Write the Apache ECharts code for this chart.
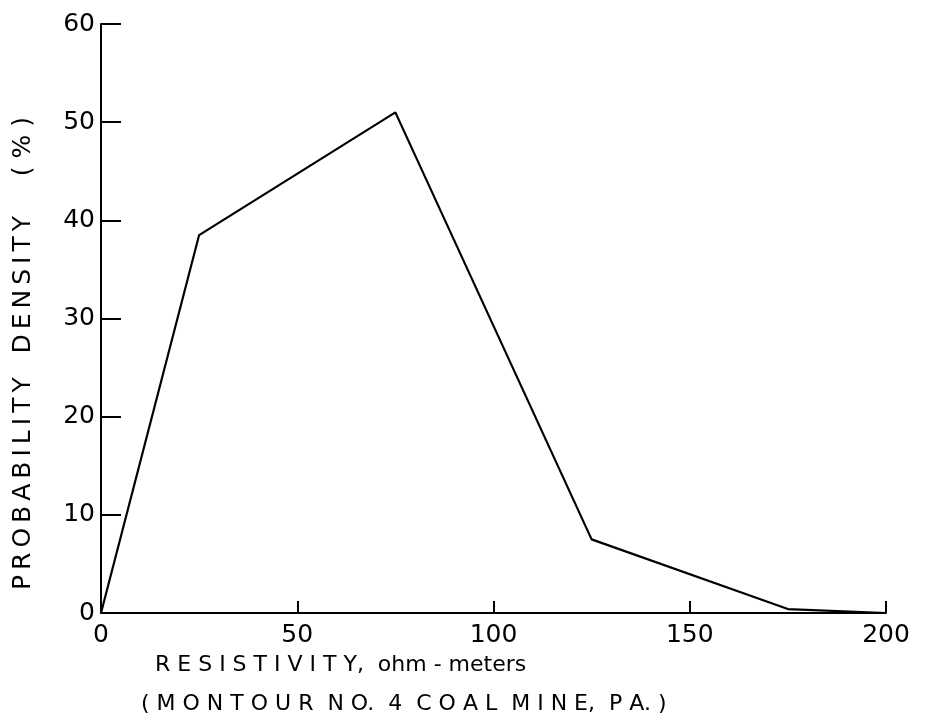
<!DOCTYPE html>
<html>
<head>
<meta charset="utf-8">
<script src="https://cdn.jsdelivr.net/npm/echarts@6/dist/echarts.min.js"></script>
<style>
  html, body { margin: 0; padding: 0; background: #fff; }
  #chart { width: 928px; height: 726px; }
</style>
</head>
<body>
<div id="chart"></div>
<script>
// resistivity (ohm-meters) vs probability density (%)
const resistivity = [0, 25, 75, 125, 175, 200]
const density = [0, 38.5, 51, 7.5, 0.4, 0]
const xTicks = [0, 50, 100, 150, 200]
const yTicks = [0, 10, 20, 30, 40, 50, 60]

const font = 'DejaVu Sans'
const thin = '\u2009'
// spread letters a little, like the hand lettering
const spread = s => s.split(' ').map(w => w.split('').join(thin)).join('   ')

const myChart = echarts.init(document.getElementById('chart'))

const option = {
  backgroundColor: '#fff',
  animation: false,
  grid: {
    left: 101,
    right: 42,
    top: 24,
    bottom: 113
  },
  xAxis: {
    type: 'value',
    min: xTicks[0],
    max: xTicks[xTicks.length - 1],
    interval: 50,
    splitLine: { show: false },
    axisLine: { lineStyle: { color: '#000', width: 2 } },
    axisTick: { inside: true, length: 12, lineStyle: { color: '#000', width: 2 } },
    axisLabel: { color: '#000', fontFamily: font, fontSize: 25, margin: 10 }
  },
  yAxis: {
    type: 'value',
    min: yTicks[0],
    max: yTicks[yTicks.length - 1],
    interval: 10,
    splitLine: { show: false },
    axisLine: { lineStyle: { color: '#000', width: 2 } },
    axisTick: { inside: true, length: 20, lineStyle: { color: '#000', width: 2 } },
    axisLabel: { color: '#000', fontFamily: font, fontSize: 25, margin: 6 }
  },
  graphic: [
    {
      type: 'text',
      left: 155,
      top: 654,
      style: {
        text: 'R E S I S T I V I T Y,  ohm - meters',
        font: '22px ' + font,
        fill: '#000'
      }
    },
    {
      type: 'text',
      left: 141,
      top: 693,
      style: {
        text: '( M O N T O U R  N O.  4  C O A L  M I N E,  P A. )',
        font: '22px ' + font,
        fill: '#000'
      }
    },
    {
      type: 'text',
      x: 11,
      y: 590,
      rotation: Math.PI / 2,
      style: {
        text: spread('PROBABILITY DENSITY') + '     ( % )',
        font: '25px ' + font,
        fill: '#000'
      }
    }
  ],
  series: [
    {
      type: 'line',
      data: resistivity.map((x, i) => [x, density[i]]),
      symbol: 'none',
      lineStyle: { color: '#000', width: 2.2 }
    }
  ]
}

option && myChart.setOption(option)
</script>
</body>
</html>
